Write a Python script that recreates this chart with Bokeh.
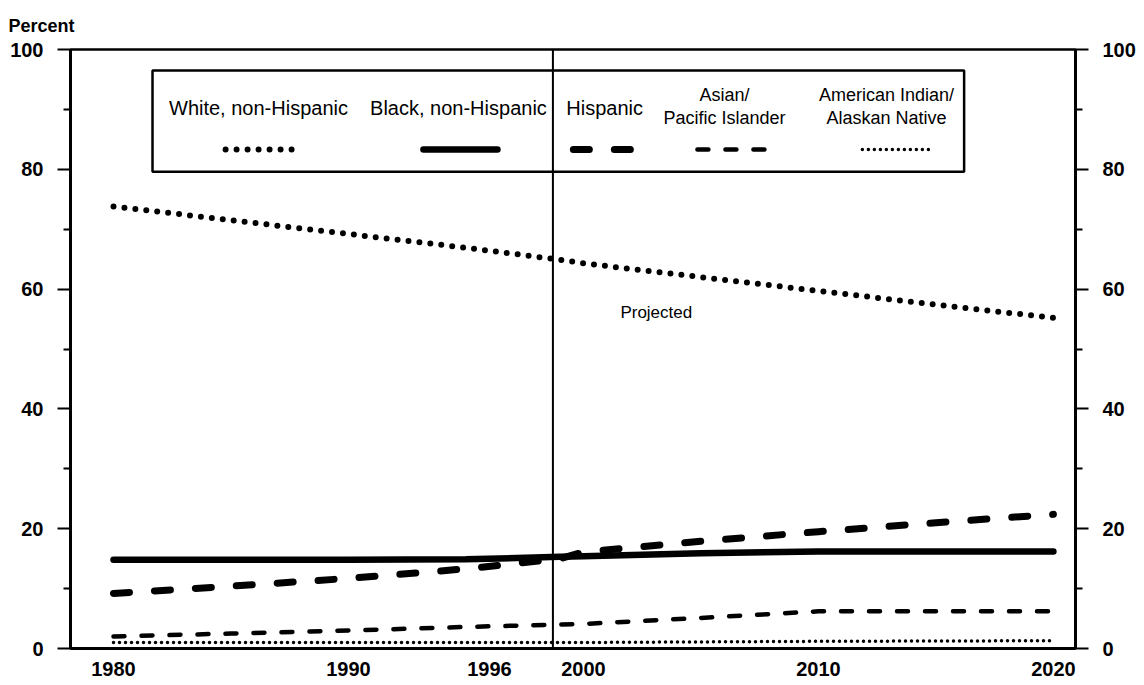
from bokeh.plotting import figure
from bokeh.models import Range1d, LinearAxis, FixedTicker, Span
from bokeh.core.properties import value
from bokeh.embed import file_html
from bokeh.resources import INLINE

# ---- data ----
years = [1980, 1985, 1990, 1995, 1999, 2000, 2005, 2010, 2015, 2020]
white = [73.8, 71.5, 69.2, 66.9, 64.9, 64.3, 62.0, 59.7, 57.4, 55.2]
black = [14.8, 14.8, 14.8, 14.9, 15.3, 15.4, 15.9, 16.2, 16.2, 16.2]
hispanic = [9.2, 10.4, 11.7, 13.3, 15.0, 16.1, 17.9, 19.5, 21.0, 22.4]
asian = [2.0, 2.5, 3.0, 3.6, 4.0, 4.1, 5.1, 6.2, 6.2, 6.2]
amind = [1.0, 1.0, 1.0, 1.0, 1.0, 1.0, 1.1, 1.2, 1.25, 1.3]

x_ticks = [1980, 1990, 1996, 2000, 2010, 2020]
y_ticks = [0, 20, 40, 60, 80, 100]
y_minor = [10, 30, 50, 70, 90]
projection_start = 1998.7

legend_labels_top = ["", "", "", "Asian/", "American Indian/"]
legend_labels_bottom = ["", "", "", "Pacific Islander", "Alaskan Native"]
legend_labels_single = ["White, non-Hispanic", "Black, non-Hispanic", "Hispanic", "", ""]

FONT = "Liberation Sans"

p = figure(width=1140, height=685, x_range=Range1d(1978.17, 2020.94),
           y_range=Range1d(0, 100), output_backend="svg", toolbar_location=None,
           min_border_left=70, min_border_right=65, min_border_top=49,
           min_border_bottom=37)
p.grid.visible = False
p.background_fill_color = "white"
p.border_fill_color = "white"
p.outline_line_color = "black"
p.outline_line_width = 2.5
p.outline_line_alpha = 1.0

# title "Percent"
p.title.text = "Percent"
p.title.text_font = FONT
p.title.text_font_size = "18px"
p.title.text_font_style = "bold"
p.title.text_color = "black"
p.title.align = "left"
p.title.offset = -62
p.title.standoff = 27

def style_y(ax):
    ax.ticker = FixedTicker(ticks=y_ticks, minor_ticks=y_minor)
    ax.axis_line_width = 3
    ax.major_tick_line_width = 2
    ax.minor_tick_line_width = 2
    ax.major_tick_out = 13
    ax.major_tick_in = 0
    ax.minor_tick_out = 7
    ax.minor_tick_in = 0
    ax.major_label_standoff = 14
    ax.major_label_text_font = FONT
    ax.major_label_text_font_size = "20px"
    ax.major_label_text_font_style = "bold"
    ax.major_label_text_color = "black"

style_y(p.yaxis[0])
right = LinearAxis()
style_y(right)
p.add_layout(right, "right")

xa = p.xaxis[0]
xa.ticker = FixedTicker(ticks=x_ticks)
xa.axis_line_width = 3
xa.major_tick_out = 0
xa.major_tick_in = 0
xa.minor_tick_out = 0
xa.minor_tick_in = 0
xa.major_label_standoff = 13
xa.major_label_text_font = FONT
xa.major_label_text_font_size = "20px"
xa.major_label_text_font_style = "bold"
xa.major_label_text_color = "black"

styles = [
    dict(line_width=6, line_dash="0 11", line_cap="round"),     # white
    dict(line_width=6.5, line_cap="round"),                      # black
    dict(line_width=7, line_dash="16 25", line_cap="round"),    # hispanic
    dict(line_width=4.5, line_dash="11 17", line_cap="round"),  # asian
    dict(line_width=3.5, line_dash="0 6", line_cap="round"),    # am. indian
]
series = [white, black, hispanic, asian, amind]
for s, st in zip(series, styles):
    p.line(years, s, line_color="black", **st)

# projection line
p.add_layout(Span(location=projection_start, dimension="height",
                  line_color="black", line_width=2))

p.text([2003.1], [56.1], text=["Projected"], text_font=value(FONT),
       text_font_size="17px", text_align="center", text_baseline="middle",
       text_color="black")

# legend box
p.quad(left=[1981.66], right=[2016.2], bottom=[79.6], top=[96.5],
       fill_color=None, line_color="black", line_width=2.5)

leg_centers = [1986.17, 1994.68, 2000.9, 2006.0, 2012.9]
leg_samples = [(1984.77, 1987.62), (1993.19, 1996.34), (1999.57, 2002.26),
               (2004.85, 2007.96), (2011.87, 2014.89)]
for c, lab in zip(leg_centers, legend_labels_single):
    if lab:
        p.text([c], [90.3], text=[lab], text_font=value(FONT), text_font_size="20px",
               text_align="center", text_baseline="middle", text_color="black")
for c, lt, lb in zip(leg_centers, legend_labels_top, legend_labels_bottom):
    if lt:
        p.text([c], [92.4], text=[lt], text_font=value(FONT), text_font_size="18px",
               text_align="center", text_baseline="middle", text_color="black")
        p.text([c], [88.6], text=[lb], text_font=value(FONT), text_font_size="18px",
               text_align="center", text_baseline="middle", text_color="black")
for (x0, x1), st in zip(leg_samples, styles):
    p.line([x0, x1], [83.3, 83.3], line_color="black", **st)

open("out.html", "w").write(file_html(p, INLINE))
